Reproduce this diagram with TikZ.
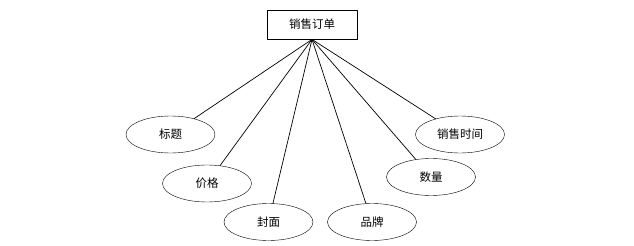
\documentclass[tikz,border=0pt]{standalone}
\usepackage{fontspec}
\setmainfont{Noto Sans CJK SC}
\usetikzlibrary{shapes.geometric}
\tikzset{
  entitybox/.style={draw, rectangle, minimum width=90pt, minimum height=29pt, inner sep=0pt},
  attrib/.style={draw, ellipse, minimum width=89pt, minimum height=37pt, inner sep=0pt},
  link/.style={line width=0.7pt}
}
\begin{document}
\begin{tikzpicture}[x=1pt, y=-1pt, line cap=round, line join=round, font=\fontsize{11.5}{13}\selectfont]
  % Canvas bounds
  \useasboundingbox (0,0) rectangle (634,246);

  % Entity
  \node[entitybox, line width=0.8pt] (order) at (312,24.5) {销售订单};

  % Attributes
  \node[attrib] (title) at (170.5,134.5) {标题};
  \node[attrib] (price) at (207,183.5) {价格};
  \node[attrib] (cover) at (268.5,222) {封面};
  \node[attrib] (brand) at (372,222) {品牌};
  \node[attrib] (qty) at (431,177) {数量};
  \node[attrib] (saletime) at (460,134.5) {销售时间};

  % Connectors from entity to attributes
  \foreach \a in {title, price, cover, brand, qty, saletime}
    \draw[link] (order.south) -- (\a);
\end{tikzpicture}
\end{document}
